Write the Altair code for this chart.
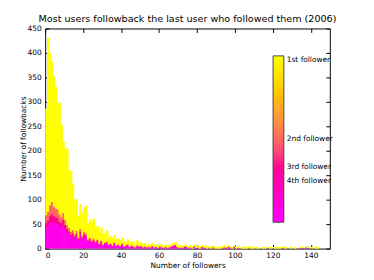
import altair as alt
import pandas as pd

# bin starts (width 1)
bins = list(range(0, 148))

total = [
    285, 430, 398, 380, 350, 330, 297, 297, 252, 218,
    204, 203, 160, 157, 132, 97, 100, 66, 90, 72,
    84, 86, 50, 58, 52, 60, 40, 45, 33, 42,
    30, 28, 36, 22, 25, 20, 26, 18, 20, 16,
    22, 14, 12, 18, 10, 14, 12, 8, 16, 10,
    12, 8, 10, 6, 9, 7, 10, 6, 8, 5,
    9, 6, 4, 7, 5, 6, 8, 10, 12, 8,
    5, 6, 4, 7, 5, 4, 6, 3, 7, 4,
    5, 3, 6, 4, 5, 2, 4, 3, 5, 2,
    1, 3, 2, 4, 5, 3, 6, 4, 2, 5,
    2, 3, 0, 2, 3, 1, 2, 4, 2, 3,
    0, 2, 1, 0, 3, 2, 0, 2, 3, 0,
    2, 1, 3, 2, 0, 4, 2, 0, 0, 3,
    0, 2, 0, 0, 3, 2, 0, 4, 3, 0,
    2, 0, 3, 2, 0, 0, 0, 0,
]

second = [
    16, 18, 22, 24, 20, 18, 18, 15, 12, 14,
    10, 8, 7, 6, 6, 4, 6, 3, 6, 4,
    5, 4, 2, 3, 2, 3, 2, 2, 1, 2,
    1, 1, 2, 1, 1, 1, 1, 0, 1, 0,
    1,
] + [0] * 107

third = [
    10, 12, 14, 15, 14, 12, 12, 10, 10, 10,
    8, 6, 5, 4, 5, 4, 4, 3, 4, 2,
    3, 3, 2, 2, 1, 2, 1, 2, 1, 1,
    1, 1, 1, 0, 1, 0, 1, 1, 0, 0,
    1,
] + [0] * 107

later = [
    42, 45, 52, 56, 52, 52, 50, 45, 42, 48,
    40, 34, 30, 24, 27, 20, 26, 16, 30, 20,
    26, 23, 14, 17, 13, 15, 11, 14, 8, 13,
    6, 10, 11, 7, 8, 5, 10, 5, 7, 5,
    8,
    4, 6, 8, 3, 6, 4, 2, 6, 4, 5,
    2, 4, 2, 3, 2, 5, 2, 3, 1, 4,
    2, 1, 3, 1, 2, 4, 6, 7, 3, 1,
    2, 1, 4, 3, 1, 2, 0, 4, 1, 2,
    0, 3, 2, 1, 0, 1, 0, 2, 0, 0,
    0, 0, 1, 2, 1, 3, 2, 0, 3, 0,
    1, 0, 0, 0, 0, 0, 1, 0, 0, 0,
    0, 0, 0, 0, 0, 0, 1, 0, 0, 0,
    0, 0, 0, 0, 1, 0, 0, 0, 0, 0,
    0, 0, 0, 1, 1, 0, 2, 1, 0, 0,
    0, 0, 0, 0, 0, 0, 0,
]

# 1/rank value for each layer
rank_values = {"later": 0.06, "third": 1 / 3, "second": 0.5, "first": 1.0}
legend_values = [1.0, 0.5, 1 / 3, 0.25]
x_ticks = [0, 20, 40, 60, 80, 100, 120, 140]
y_ticks = [0, 50, 100, 150, 200, 250, 300, 350, 400, 450]

# stacked histogram: deeper ranks (magenta) at the bottom, 1st follower on top
rows = []
for i, b in enumerate(bins):
    first = total[i] - second[i] - third[i] - later[i]
    base = 0
    for cnt, v in [(later[i], rank_values["later"]), (third[i], rank_values["third"]),
                   (second[i], rank_values["second"]), (first, rank_values["first"])]:
        if cnt > 0:
            rows.append({"x0": b, "x1": b + 1, "y0": base, "y1": base + cnt, "v": v})
            base += cnt
df = pd.DataFrame(rows)

xs = alt.Scale(domain=[0, 150], nice=False, zero=False)
ys = alt.Scale(domain=[0, 450], nice=False)
spring = ["#ff00ff", "#ffff00"]
fs = 7.6

label_expr = ("datum.value > 0.9 ? '1st follower' : datum.value > 0.4 ? '2nd follower' : "
              "datum.value > 0.3 ? '3rd follower' : '4th follower'")

color = alt.Color(
    "v:Q",
    scale=alt.Scale(domain=[0, 1], range=spring),
    legend=alt.Legend(
        orient="none", legendX=233, legendY=28, direction="vertical",
        gradientLength=170, gradientThickness=11,
        gradientStrokeColor="#444444", gradientStrokeWidth=1,
        values=legend_values, labelExpr=label_expr, labelFontSize=fs,
        labelOffset=3, labelOverlap=False, labelColor="black", title=None,
    ),
)

bars = alt.Chart(df).mark_rect(strokeWidth=0, x2Offset=0.6, y2Offset=-0.6).encode(
    x=alt.X("x0:Q", scale=xs, axis=alt.Axis(
        title="Number of followers", values=x_ticks, tickSize=4, offset=-4,
        domain=False, grid=False, labelPadding=3, labelFontSize=fs,
        titleFontSize=fs, titleFontWeight="normal", titlePadding=3,
        tickColor="black", labelColor="black", titleColor="black")),
    x2="x1:Q",
    y=alt.Y("y0:Q", scale=ys, axis=alt.Axis(
        title="Number of followbacks", values=y_ticks, tickSize=4, offset=-4,
        domain=False, grid=False, labelPadding=4, labelFontSize=fs,
        titleFontSize=fs, titleFontWeight="normal", titlePadding=0,
        tickColor="black", labelColor="black", titleColor="black")),
    y2="y1:Q",
    color=color,
)

ghost = alt.Chart(df).mark_rect(opacity=0).encode(
    x=alt.X("x0:Q", scale=xs, axis=alt.Axis(
        orient="top", title=None, labels=False, values=x_ticks, tickSize=4,
        offset=-4, domain=False, grid=False, tickColor="black")),
    x2="x1:Q",
    y=alt.Y("y0:Q", scale=ys, axis=alt.Axis(
        orient="right", title=None, labels=False, values=y_ticks, tickSize=4,
        offset=-4, domain=False, grid=False, tickColor="black")),
    y2="y1:Q",
)

chart = alt.layer(bars, ghost).resolve_axis(x="independent", y="independent").properties(
    width=291, height=225,
    title=alt.Title("Most users followback the last user who followed them (2006)",
                    fontSize=9.8, fontWeight="normal", anchor="middle", frame="group",
                    offset=1, color="black"),
    autosize=alt.AutoSizeParams(type="none"),
    padding={"left": 38, "top": 18, "right": 37, "bottom": 21},
).configure(font="DejaVu Sans").configure_view(stroke="black", strokeWidth=1)

chart.save("out.html", embed_options={"renderer": "svg", "actions": False})
